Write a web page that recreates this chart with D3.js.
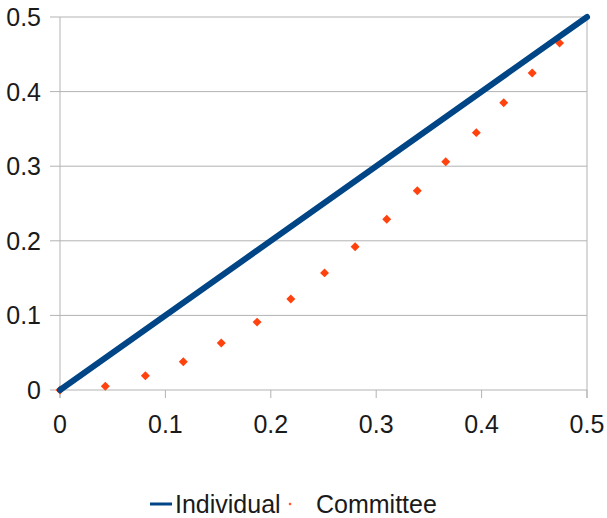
<!DOCTYPE html>
<html><head><meta charset="utf-8">
<script src="https://cdn.jsdelivr.net/npm/d3@7"></script>
<style>body{margin:0;background:#fff}svg text{font-family:"Liberation Sans",Arial,sans-serif}</style>
</head><body><svg id="c" width="607" height="518"></svg>
<script>
const xTicks = [0, 0.1, 0.2, 0.3, 0.4, 0.5];
const yTicks = [0, 0.1, 0.2, 0.3, 0.4, 0.5];
const individualX = [0, 0.5];
const individualY = [0, 0.5];
const committeeX = [0, 0.043, 0.081, 0.117, 0.153, 0.187, 0.219, 0.251, 0.280, 0.310, 0.339, 0.366, 0.395, 0.421, 0.448, 0.474];
const committeeY = [0, 0.005, 0.019, 0.038, 0.063, 0.091, 0.122, 0.157, 0.192, 0.229, 0.267, 0.306, 0.345, 0.385, 0.425, 0.465];
const seriesNames = ["Individual", "Committee"];

const svg = d3.select("#c");
const x = d3.scaleLinear().domain([0, 0.5]).range([60, 587]);
const y = d3.scaleLinear().domain([0, 0.5]).range([390, 17]);
const grid = "#b3b3b3";
const fmt = d => d === 0 ? "0" : String(d);

// horizontal gridlines
svg.append("g").selectAll("line").data(yTicks).join("line")
  .attr("x1", 50).attr("x2", x(0.5)).attr("y1", d => y(d)).attr("y2", d => y(d))
  .attr("stroke", grid).attr("stroke-width", 1);
// left axis line
svg.append("line").attr("x1", x(0)).attr("x2", x(0)).attr("y1", y(0.5)).attr("y2", y(0) + 8)
  .attr("stroke", grid);
// right border
svg.append("line").attr("x1", x(0.5)).attr("x2", x(0.5)).attr("y1", y(0.5)).attr("y2", y(0) + 8)
  .attr("stroke", grid);
// x ticks
svg.append("g").selectAll("line").data(xTicks).join("line")
  .attr("x1", d => x(d)).attr("x2", d => x(d)).attr("y1", y(0)).attr("y2", y(0) + 8)
  .attr("stroke", grid);
// y labels
svg.append("g").selectAll("text").data(yTicks).join("text")
  .attr("x", 41).attr("y", d => y(d) + 9).attr("text-anchor", "end")
  .attr("font-size", 25).attr("fill", "#1a1a1a").text(fmt);
// x labels
svg.append("g").selectAll("text").data(xTicks).join("text")
  .attr("x", d => x(d)).attr("y", 433).attr("text-anchor", "middle")
  .attr("font-size", 25).attr("fill", "#1a1a1a").text(fmt);

// Committee points (rotated squares)
const diamond = d3.symbol().type(d3.symbolSquare).size(40);
svg.append("g").selectAll("path").data(committeeX.map((v, i) => [v, committeeY[i]])).join("path")
  .attr("d", diamond).attr("transform", d => `translate(${x(d[0])},${y(d[1])}) rotate(45)`)
  .attr("fill", "#ff420e");

// Individual line
const line = d3.line().x(d => x(d[0])).y(d => y(d[1]));
svg.append("path").datum(individualX.map((v, i) => [v, individualY[i]]))
  .attr("d", line).attr("fill", "none").attr("stroke", "#004586").attr("stroke-width", 6)
  .attr("stroke-linecap", "round");

// Legend
const ly = 504;
svg.append("line").attr("x1", 150).attr("x2", 172).attr("y1", ly).attr("y2", ly)
  .attr("stroke", "#004586").attr("stroke-width", 3);
svg.append("text").attr("x", 175).attr("y", ly + 9).attr("font-size", 25).attr("fill", "#1a1a1a").text(seriesNames[0]);
svg.append("path").attr("d", d3.symbol().type(d3.symbolSquare).size(5)).attr("transform", `translate(290,${ly}) rotate(45)`).attr("fill", "#ff420e");
svg.append("text").attr("x", 316).attr("y", ly + 9).attr("font-size", 25).attr("fill", "#1a1a1a").text(seriesNames[1]);
</script></body></html>
